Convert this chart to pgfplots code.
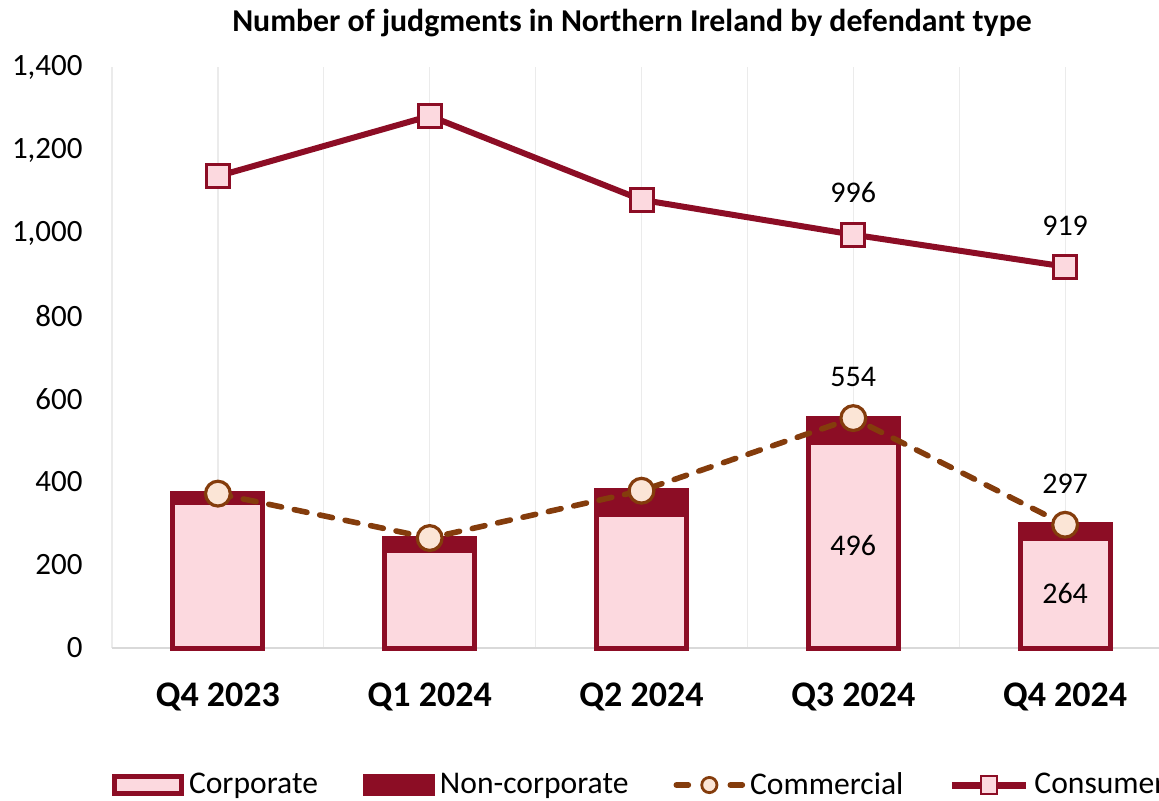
\documentclass[border=0pt]{standalone}
\usepackage{fontspec}
\setmainfont{Carlito}
\usepackage{pgfplots}
\pgfplotsset{compat=1.18}
\definecolor{darkred}{HTML}{8C0D25}
\definecolor{pinkc}{HTML}{FCD9DF}
\definecolor{brownc}{HTML}{843C0C}
\definecolor{peach}{HTML}{FBE5D6}
\definecolor{gridc}{HTML}{EBEBEB}
\definecolor{axisc}{HTML}{D9D9D9}
\begin{document}
\begin{tikzpicture}
\useasboundingbox (0,0) rectangle (579.5pt,400pt);
\node[font=\bfseries\fontsize{15.9}{18}\selectfont] at (316pt,388.5pt) {Number of judgments in Northern Ireland by defendant type};
\begin{axis}[
  at={(56pt,76pt)}, anchor=south west,
  scale only axis, width=529.5pt, height=290.5pt,
  xmin=-0.5, xmax=4.5, ymin=0, ymax=1400,
  clip=false,
  xtick={0,1,2,3,4},
  xticklabels={Q4 2023,Q1 2024,Q2 2024,Q3 2024,Q4 2024},
  minor xtick={-0.5,0.5,1.5,2.5,3.5,4.5},
  xmajorgrids, xminorgrids,
  major grid style={gridc, line width=0.6pt},
  minor grid style={gridc, line width=0.6pt},
  ytick={0,200,...,1400},
  major tick length=0pt, minor tick length=0pt,
  separate axis lines,
  axis x line*=bottom, axis y line*=left,
  x axis line style={axisc, line width=1pt, -},
  y axis line style={draw=none},
  /pgf/number format/1000 sep={,},
  /pgf/number format/assume math mode=true,
  yticklabel style={font=\fontsize{15.5}{18}\selectfont, anchor=east, inner sep=0pt, xshift=-14.5pt},
  xticklabel style={font=\bfseries\fontsize{18}{21}\selectfont, anchor=base, inner sep=0pt, yshift=-29pt},
  legend style={at={(0,-0.2358)}, anchor=west, draw=none, fill=none, legend columns=4,
    font=\fontsize{15.8}{19}\selectfont, inner sep=0pt, outer sep=0pt,
    nodes={inner sep=0pt},
    /tikz/every odd column/.append style={column sep=2.5pt},
    /tikz/every even column/.append style={column sep=22.5pt}},
  legend cell align=left,
]
% total (corporate + non-corporate)
\addplot[ybar, bar width=0.425, bar shift=0pt, fill=darkred, draw=darkred, line width=2.5pt, forget plot]
  coordinates {(0,372) (1,265) (2,379) (3,554) (4,297)};
% corporate
\addplot[ybar, bar width=0.425, bar shift=0pt, fill=pinkc, draw=darkred, line width=2.5pt, forget plot,
  nodes near coords, point meta=explicit symbolic,
  visualization depends on={rawy \as \rawy},
  every node near coord/.append style={anchor=center, inner sep=0pt, font=\fontsize{15}{18}\selectfont, text=black,
    shift={(axis direction cs:0,-\rawy/2)}}]
  coordinates {(0,350)[] (1,234)[] (2,321)[] (3,496)[496] (4,264)[264]};
% commercial
\addplot[brownc, line width=2.8pt, dash pattern=on 6.5pt off 6.5pt, line cap=round, forget plot,
  mark=*, mark size=6.2pt, mark options={fill=peach, draw=brownc, line width=1.6pt, solid},
  nodes near coords, point meta=explicit symbolic,
  every node near coord/.append style={anchor=south, inner sep=0pt, yshift=15pt, font=\fontsize{15}{18}\selectfont, text=black}]
  coordinates {(0,372)[] (1,265)[] (2,379)[] (3,554)[554] (4,297)[297]};
% consumer
\addplot[darkred, line width=3pt, forget plot,
  mark=square*, mark size=5.75pt, mark options={fill=pinkc, draw=darkred, line width=1.5pt, solid},
  nodes near coords, point meta=explicit symbolic,
  every node near coord/.append style={anchor=south, inner sep=0pt, yshift=15pt, font=\fontsize{15}{18}\selectfont, text=black}]
  coordinates {(0,1137)[] (1,1282)[] (2,1080)[] (3,996)[996] (4,919)[919]};
\addlegendimage{legend image code/.code={\draw[fill=pinkc, draw=darkred, line width=2.5pt] (1.25pt,-4.25pt) rectangle (34.75pt,4.25pt);}}
\addlegendentry{Corporate}
\addlegendimage{legend image code/.code={\draw[fill=darkred, draw=darkred, line width=2.5pt] (1.25pt,-4.25pt) rectangle (34.75pt,4.25pt);}}
\addlegendentry{Non-corporate}
\addlegendimage{legend image code/.code={\draw[brownc, line width=2.8pt, line cap=round] (1.5pt,0pt)--(7.5pt,0pt) (28.5pt,0pt)--(34.5pt,0pt); \draw[fill=peach, draw=brownc, line width=1.4pt] (18pt,0pt) circle (3.8pt);}}
\addlegendentry{Commercial}
\addlegendimage{legend image code/.code={\draw[darkred, line width=3.5pt] (0pt,0pt)--(37pt,0pt); \draw[fill=pinkc, draw=darkred, line width=1.3pt] (14.5pt,-4.5pt) rectangle (22.5pt,4.5pt);}}
\addlegendentry{Consumer}
\end{axis}
\end{tikzpicture}
\end{document}
